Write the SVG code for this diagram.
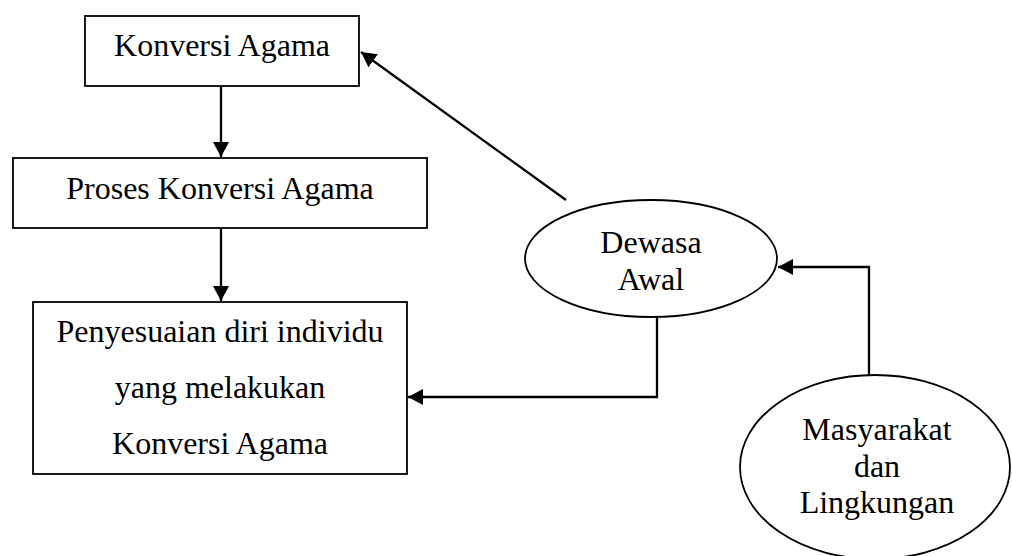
<svg xmlns="http://www.w3.org/2000/svg" width="1012" height="556" viewBox="0 0 1012 556">
<style>
.box{fill:#fff;stroke:#000;stroke-width:1.8}
.lbl{font-family:"Liberation Serif","Times New Roman",serif;font-size:32px;fill:#000;text-anchor:middle}
.con{fill:none;stroke:#000;stroke-width:2.3}
</style>
<defs>
<marker id="ah" markerUnits="userSpaceOnUse" markerWidth="16" markerHeight="16" refX="15" refY="8" orient="auto">
<path d="M0,0 L15,8 L0,16 z" fill="#000"/>
</marker>
</defs>
<rect width="1012" height="556" fill="#fff"/>
<g id="connectors">
<path class="con" d="M221,86 V157" marker-end="url(#ah)"/>
<path class="con" d="M221,228 V301" marker-end="url(#ah)"/>
<path class="con" d="M566,200 L361,52" marker-end="url(#ah)"/>
<path class="con" d="M869,377 V267 H778" marker-end="url(#ah)"/>
<path class="con" d="M657,315 V397 H408" marker-end="url(#ah)"/>
</g>
<g id="konversi-agama">
<rect class="box" x="85" y="16" width="274" height="70"/>
<text class="lbl" x="222" y="56">Konversi Agama</text>
</g>
<g id="proses-konversi">
<rect class="box" x="13" y="158" width="414" height="70"/>
<text class="lbl" x="220" y="199">Proses Konversi Agama</text>
</g>
<g id="penyesuaian-diri">
<rect class="box" x="33" y="302" width="374" height="172"/>
<text class="lbl" x="220" y="342">Penyesuaian diri individu</text>
<text class="lbl" x="220" y="398">yang melakukan</text>
<text class="lbl" x="220" y="454">Konversi Agama</text>
</g>
<g id="dewasa-awal">
<ellipse class="box" cx="651" cy="258.5" rx="126" ry="58.5"/>
<text class="lbl" x="651" y="253">Dewasa</text>
<text class="lbl" x="651" y="290">Awal</text>
</g>
<g id="masyarakat">
<ellipse class="box" cx="875" cy="467" rx="135" ry="92"/>
<text class="lbl" x="877" y="440">Masyarakat</text>
<text class="lbl" x="877" y="477">dan</text>
<text class="lbl" x="877" y="513">Lingkungan</text>
</g>
</svg>
